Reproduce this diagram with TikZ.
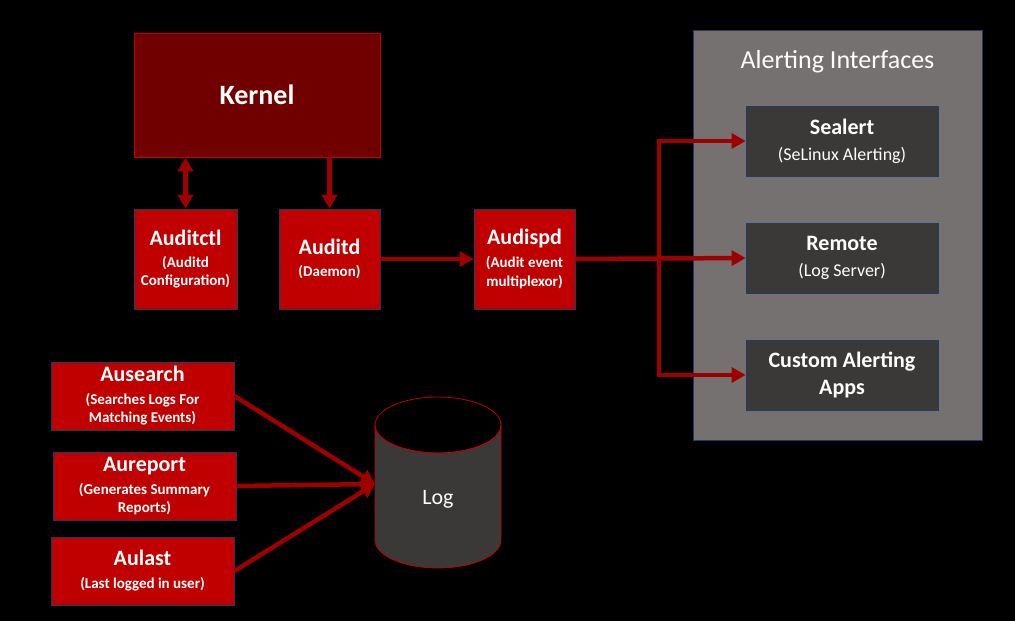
\documentclass[tikz,border=0pt]{standalone}
\usepackage{fontspec}
\setmainfont{Carlito}
\usetikzlibrary{arrows.meta}

\definecolor{boxred}{RGB}{192,0,0}
\definecolor{kernelred}{RGB}{112,0,0}
\definecolor{arrowred}{RGB}{158,0,0}
\definecolor{panelgray}{RGB}{118,113,113}
\definecolor{darkbox}{RGB}{59,56,56}
\definecolor{navy}{RGB}{36,58,102}

\newcommand{\boxsub}[1]{{\fontsize{15}{16}\selectfont #1}}
\newcommand{\darksub}[1]{{\fontsize{18}{20}\selectfont\mdseries #1}}

\tikzset{
  redbox/.style={fill=boxred, draw=navy, line width=0.8pt, inner sep=0pt,
    align=center, text=white, font=\fontsize{22}{24}\selectfont\bfseries},
  darkbox/.style={fill=darkbox, draw=navy, line width=0.8pt, inner sep=0pt,
    minimum width=192pt, minimum height=70pt,
    align=center, text=white, font=\fontsize{22}{24}\selectfont\bfseries},
  flow/.style={draw=arrowred, line width=4.5pt, -{Triangle[length=14pt,width=15pt]}},
  twoway/.style={draw=arrowred, line width=4.5pt,
    {Triangle[length=14pt,width=15pt]}-{Triangle[length=14pt,width=15pt]}}
}

\begin{document}
\begin{tikzpicture}[x=1pt,y=-1pt]
    \fill [black] (0,0) rectangle (1015,621);
    \useasboundingbox (0,0) rectangle (1015,621);

    % top row
    \node [fill=kernelred, draw=boxred, line width=0.8pt, minimum width=246pt,
      minimum height=124pt, text=white, font=\fontsize{28}{30}\selectfont\bfseries]
      (kernel) at (257,95) {Kernel};

    \node [redbox, minimum width=103pt, minimum height=100pt] (auditctl) at (185.5,259)
      {Auditctl\\[-2pt]\boxsub{(Auditd}\\[-6pt]\boxsub{Configuration)}};
    \node [redbox, minimum width=101pt, minimum height=100pt] (auditd) at (329.5,259)
      {Auditd\\[-2pt]\boxsub{(Daemon)}};
    \node [redbox, minimum width=101pt, minimum height=100pt] (audispd) at (524.5,259)
      {Audispd\\[-1pt]\boxsub{(Audit event}\\[-5pt]\boxsub{multiplexor)}};

    % alerting panel
    \node [fill=panelgray, draw=navy, line width=0.8pt, minimum width=289pt,
      minimum height=410pt] (panel) at (837.5,235) {};
    \node [text=white, font=\fontsize{26}{28}\selectfont] (paneltitle) at (837.5,62)
      {Alerting Interfaces};

    \node [darkbox] (sealert) at (842,141) {Sealert\\[2pt]\darksub{(SeLinux Alerting)}};
    \node [darkbox] (remote) at (842,258) {Remote\\[2pt]\darksub{(Log Server)}};
    \node [darkbox] (custom) at (842,375) {Custom Alerting\\[3pt]Apps};

    % search tools
    \node [redbox, minimum width=183pt, minimum height=68pt] (ausearch) at (142.5,396)
      {Ausearch\\[-1pt]\boxsub{(Searches Logs For}\\[-6pt]\boxsub{Matching Events)}};
    \node [redbox, minimum width=183pt, minimum height=68pt] (aureport) at (144.5,486)
      {Aureport\\[-1pt]\boxsub{(Generates Summary}\\[-6pt]\boxsub{Reports)}};
    \node [redbox, minimum width=183pt, minimum height=68pt] (aulast) at (142.5,571)
      {Aulast\\[-1pt]\boxsub{(Last logged in user)}};

    % log cylinder
    \filldraw [fill=darkbox, draw=boxred, line width=0.8pt]
      (375,425) -- (375,540) arc [start angle=180, end angle=0, x radius=63, y radius=28]
      -- (501,425) arc [start angle=0, end angle=180, x radius=63, y radius=28] -- cycle;
    \draw [boxred, line width=0.8pt] (438,425) ellipse [x radius=63, y radius=28];
    \node [text=white, font=\fontsize{22}{24}\selectfont] (log) at (438,499) {Log};
    \coordinate (login) at (375,484);

    % connectors
    \draw [twoway] (kernel.south -| auditctl.north) -- (auditctl.north);
    \draw [flow] (kernel.south -| auditd.north) -- (auditd.north);
    \draw [flow] (auditd.east) -- (audispd.west);
    \draw [flow] (audispd.east) -- (remote.west);

    \coordinate (split) at (659,259);
    \draw [flow] (split) |- (sealert.west);
    \draw [flow] (split) |- (custom.west);

    \draw [flow] (ausearch.east) -- (login);
    \draw [flow] (aureport.east) -- (login);
    \draw [flow] (aulast.east) -- (login);

\end{tikzpicture}
\end{document}
